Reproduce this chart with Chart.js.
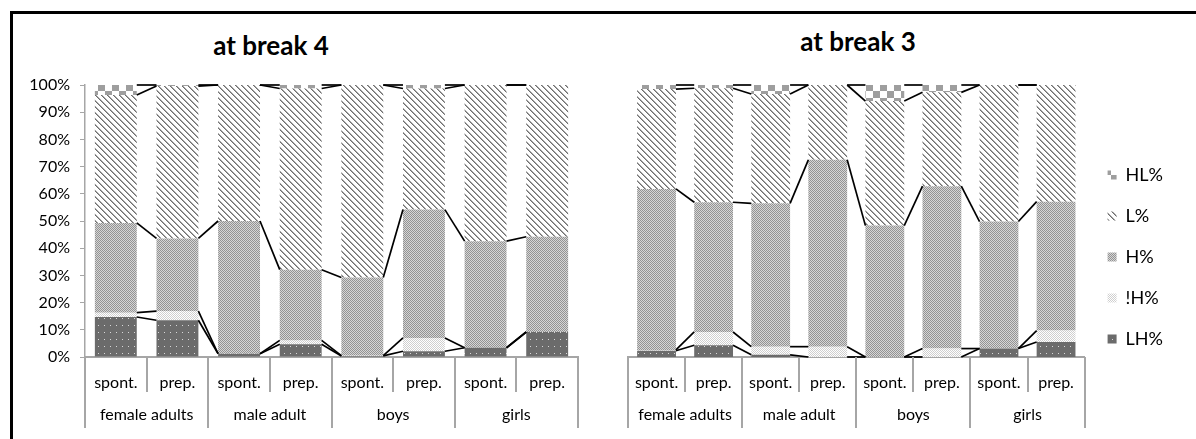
<!DOCTYPE html>
<html>
<head>
<meta charset="utf-8">
<script src="https://cdn.jsdelivr.net/npm/chart.js@4"></script>
<style>
    body { margin: 0; background: #fff; width: 1196px; height: 439px; position: relative; overflow: hidden; font-family: Lato, sans-serif; }
    .moldura { position: absolute; left: 10px; top: 11px; right: 0; bottom: 0; border-top: 3px solid #000; border-left: 3px solid #000; }
    .titulo { position: absolute; font: bold 26px Lato, sans-serif; color: #000; transform: translateX(-50%); white-space: nowrap; }
    canvas { position: absolute; top: 0; }
</style>
</head>
<body>
<div class="moldura"></div>
<div class="titulo" style="left:271px; top:29px;">at break 4</div>
<div class="titulo" style="left:858px; top:25px;">at break 3</div>
<canvas data-js="grafico-break4" width="600" height="439" style="left:0"></canvas>
<canvas data-js="grafico-break3" width="596" height="439" style="left:600px"></canvas>
<script>
const condicoes = ['spont.', 'prep.', 'spont.', 'prep.', 'spont.', 'prep.', 'spont.', 'prep.'];
const grupos = ['female adults', 'male adult', 'boys', 'girls'];
const series = ['LH%', '!H%', 'H%', 'L%', 'HL%'];

// at break 4
const lhBreak4 = [14.7, 13.5, 1.2, 4.7, 0.4, 2.1, 3.4, 9.2];
const naoHBreak4 = [1.6, 3.4, 0, 1.4, 0.1, 4.9, 0, 0];
const hBreak4 = [33.0, 26.7, 48.8, 26.0, 28.7, 47.2, 39.2, 35.0];
const lBreak4 = [47.0, 56.0, 50.0, 66.6, 70.8, 44.5, 57.4, 55.8];
const hlBreak4 = [3.7, 0.4, 0, 1.3, 0, 1.3, 0, 0];

// at break 3
const lhBreak3 = [2.3, 4.3, 0.8, 0, 0, 0, 3.1, 5.5];
const naoHBreak3 = [0.3, 4.9, 3.0, 3.8, 0, 3.1, 0, 4.2];
const hBreak3 = [59.2, 47.7, 52.7, 68.7, 48.3, 59.7, 46.7, 47.4];
const lBreak3 = [36.7, 41.9, 40.2, 27.5, 45.8, 34.5, 50.2, 42.9];
const hlBreak3 = [1.5, 1.2, 3.3, 0, 5.9, 2.7, 0, 0];

const elementos = {
    break4: '[data-js="grafico-break4"]',
    break3: '[data-js="grafico-break3"]',
}

function criaPadrao(largura, altura, desenha) {
    const tela = document.createElement('canvas');
    tela.width = largura;
    tela.height = altura;
    const g = tela.getContext('2d');
    desenha(g);
    return g.createPattern(tela, 'repeat');
}

const padroes = [
    // LH: cinza escuro com pontinhos claros
    criaPadrao(6, 7, (g) => {
        g.fillStyle = '#6b6b6b'; g.fillRect(0, 0, 6, 7);
        g.fillStyle = '#d8d8d8'; g.fillRect(2, 3, 1, 1);
    }),
    // !H: pontilhado claro
    criaPadrao(2, 2, (g) => {
        g.fillStyle = '#fff'; g.fillRect(0, 0, 2, 2);
        g.fillStyle = '#cfcfcf'; g.fillRect(0, 0, 1, 1); g.fillRect(1, 1, 1, 1);
    }),
    // H: xadrez fino cinza
    criaPadrao(2, 2, (g) => {
        g.fillStyle = '#d6d6d6'; g.fillRect(0, 0, 2, 2);
        g.fillStyle = '#939393'; g.fillRect(0, 0, 1, 1); g.fillRect(1, 1, 1, 1);
    }),
    // L: diagonais
    criaPadrao(6, 6, (g) => {
        g.fillStyle = '#fff'; g.fillRect(0, 0, 6, 6);
        for (let i = 0; i < 6; i++) {
            g.fillStyle = '#6e6e6e'; g.fillRect(i, i, 1, 1);
            g.fillStyle = '#a8a8a8'; g.fillRect((i + 1) % 6, i, 1, 1);
        }
    }),
    // HL: xadrez grande
    criaPadrao(14, 14, (g) => {
        g.fillStyle = '#fff'; g.fillRect(0, 0, 14, 14);
        g.fillStyle = '#9e9e9e'; g.fillRect(0, 0, 7, 7); g.fillRect(7, 7, 7, 7);
    }),
];

const linhasDeSerie = {
    id: 'linhasDeSerie',
    afterDatasetsDraw(grafico) {
        const ctx = grafico.ctx;
        ctx.save();
        ctx.strokeStyle = '#000';
        ctx.lineWidth = 1.7;
        grafico.data.datasets.forEach((dataset, d) => {
            const barras = grafico.getDatasetMeta(d).data;
            for (let i = 0; i < barras.length - 1; i++) {
                const a = barras[i].getProps(['x', 'y', 'width'], true);
                const b = barras[i + 1].getProps(['x', 'y', 'width'], true);
                ctx.beginPath();
                ctx.moveTo(a.x + a.width / 2, a.y);
                ctx.lineTo(b.x - b.width / 2, b.y);
                ctx.stroke();
            }
        });
        ctx.restore();
    }
};

const eixoDeGrupos = {
    id: 'eixoDeGrupos',
    afterDraw(grafico) {
        const eixo = grafico.scales.x;
        const ctx = grafico.ctx;
        const passo = (eixo.right - eixo.left) / condicoes.length;
        ctx.save();
        ctx.strokeStyle = '#a6a6a6';
        ctx.lineWidth = 2;
        for (let i = 0; i <= condicoes.length; i++) {
            const px = Math.round(eixo.left + i * passo);
            ctx.beginPath();
            ctx.moveTo(px, eixo.top);
            ctx.lineTo(px, eixo.top + (i % 2 === 0 ? 71 : 35));
            ctx.stroke();
        }
        ctx.fillStyle = '#000';
        ctx.font = '16px Lato';
        ctx.textAlign = 'center';
        ctx.textBaseline = 'middle';
        grupos.forEach((grupo, k) => {
            ctx.fillText(grupo, eixo.left + (2 * k + 1) * passo, eixo.top + 58);
        });
        ctx.restore();
    }
};

function montaDatasets(valores) {
    return series.map((nome, i) => ({
        label: nome,
        data: valores[i],
        backgroundColor: padroes[i],
        borderWidth: 0,
        barPercentage: 0.68,
        categoryPercentage: 1,
    }));
}

function criaGrafico(seletor, valores, comEixoY, comLegenda, padding) {
    const tela = document.querySelector(seletor);
    return new Chart(tela, {
        type: 'bar',
        data: {
            labels: condicoes,
            datasets: montaDatasets(valores),
        },
        options: {
            responsive: false,
            animation: false,
            layout: { padding: padding },
            plugins: {
                title: { display: false },
                tooltip: { enabled: false },
                legend: {
                    display: comLegenda,
                    position: 'right',
                    reverse: true,
                    labels: {
                        boxWidth: 9,
                        boxHeight: 9,
                        padding: 23,
                        color: '#000',
                        font: { family: 'Lato', size: 18 },
                    },
                },
            },
            scales: {
                x: {
                    stacked: true,
                    grid: { display: false },
                    border: { color: '#a6a6a6', width: 2 },
                    ticks: {
                        color: '#000',
                        padding: 8,
                        maxRotation: 0,
                        autoSkip: false,
                        font: { family: 'Lato', size: 16 },
                    },
                    afterFit: (escala) => { escala.height = 72; },
                },
                y: {
                    stacked: true,
                    display: comEixoY,
                    min: 0,
                    max: 100,
                    grid: { drawOnChartArea: false, tickLength: 5, color: '#a6a6a6' },
                    border: { color: '#a6a6a6', width: 1.5 },
                    ticks: {
                        stepSize: 10,
                        padding: 10,
                        color: '#000',
                        font: { family: 'Lato', size: 16 },
                        callback: (valor) => valor + '%',
                    },
                    afterFit: (escala) => { escala.width = comEixoY ? 85 : 0; },
                },
            },
        },
        plugins: [linhasDeSerie, eixoDeGrupos],
    });
}

criaGrafico(elementos.break4,
    [lhBreak4, naoHBreak4, hBreak4, lBreak4, hlBreak4],
    true, false, { top: 85, left: 0, right: 22, bottom: 10 });

criaGrafico(elementos.break3,
    [lhBreak3, naoHBreak3, hBreak3, lBreak3, hlBreak3],
    false, true, { top: 85, left: 28, right: 23, bottom: 10 });
</script>
</body>
</html>
